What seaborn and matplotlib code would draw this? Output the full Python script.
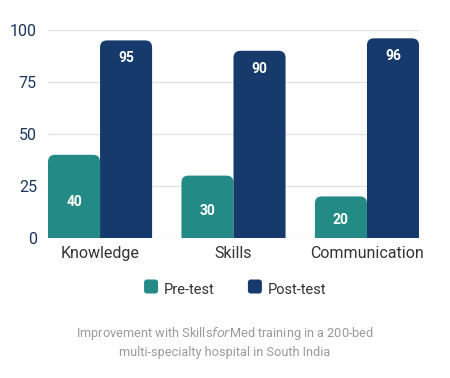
import matplotlib
matplotlib.use("Agg")
import matplotlib.pyplot as plt
import seaborn as sns
import pandas as pd
from matplotlib.patches import FancyBboxPatch, Patch
from matplotlib.legend_handler import HandlerPatch

categories = ["Knowledge", "Skills", "Communication"]
pre_test = [40, 30, 20]
post_test = [95, 90, 96]
series_names = ["Pre-test", "Post-test"]
y_ticks = [0, 25, 50, 75, 100]

TEAL = "#238A85"
NAVY = "#153A6B"

df = pd.DataFrame({
    "category": categories * 2,
    "value": pre_test + post_test,
    "series": [series_names[0]] * 3 + [series_names[1]] * 3,
})

sns.set_theme(style="white")
plt.rcParams["font.family"] = ["Roboto", "DejaVu Sans"]

fig = plt.figure(figsize=(4.5, 3.78), dpi=100)
ax = fig.add_axes([48 / 450, 1 - 238 / 378, (419 - 48) / 450, (238 - 30) / 378])

sns.barplot(data=df, x="category", y="value", hue="series", order=categories,
            hue_order=series_names, palette=[TEAL, NAVY], width=0.78, gap=0,
            saturation=1, ax=ax, legend=False)

ax.set_ylim(0, 100)
ax.set_xlim(-0.39, 2.39)
ax.set_yticks(y_ticks)
ax.grid(axis="y", color="#e3e3e3", linewidth=1)
ax.set_axisbelow(True)
for s in ax.spines.values():
    s.set_visible(False)
ax.set_xlabel("")
ax.set_ylabel("")
ax.tick_params(axis="y", length=0, pad=8, labelsize=11.5, labelcolor="#1B365D")
ax.tick_params(axis="x", length=0, pad=6, labelsize=11.5, labelcolor="#333333")

# rounded top corners
fig.canvas.draw()
bbox = ax.get_window_extent()
px_per_x = bbox.width / (ax.get_xlim()[1] - ax.get_xlim()[0])
px_per_y = bbox.height / (ax.get_ylim()[1] - ax.get_ylim()[0])
r_px = 7
rx = r_px / px_per_x
ry = r_px / px_per_y
old = list(ax.patches)
bars = []
for p in old:
    x, w, h = p.get_x(), p.get_width(), p.get_height()
    c = p.get_facecolor()
    p.remove()
    fb = FancyBboxPatch((x, -ry * 2), w, h + ry * 2,
                        boxstyle=f"round,pad=0,rounding_size={rx}",
                        mutation_aspect=ry / rx, facecolor=c, edgecolor="none",
                        linewidth=0, zorder=2)
    ax.add_patch(fb)
    bars.append((x + w / 2, h))

# labels
for (cx, h), (i, v) in zip(bars, enumerate(pre_test + post_test)):
    if i < 3:
        ty = v * 0.43
    else:
        ty = v - 8.7
    ax.text(cx, ty, str(v), ha="center", va="center", color="white",
            fontsize=10, fontweight="bold", zorder=3)

class RoundHandler(HandlerPatch):
    def create_artists(self, legend, orig_handle, xdescent, ydescent, width,
                       height, fontsize, trans):
        s = 10.08
        p = FancyBboxPatch((xdescent + (width - s) / 2, ydescent + (height - s) / 2),
                           s, s, boxstyle="round,pad=0,rounding_size=2",
                           facecolor=orig_handle.get_facecolor(), edgecolor="none",
                           transform=trans)
        return [p]

handles = [Patch(facecolor=TEAL), Patch(facecolor=NAVY)]
fig.legend(handles, series_names, loc="center", bbox_to_anchor=(235 / 450, 1 - 290 / 378),
           ncol=2, frameon=False, fontsize=10.5, handler_map={Patch: RoundHandler()},
           handlelength=0.96, handleheight=0.96, handletextpad=0.38, columnspacing=2.3,
           labelcolor="#333333")

fig.text(225 / 450, 1 - 342 / 378,
         "Improvement with Skills$\\it{for}$Med training in a 200-bed\nmulti-specialty hospital in South India",
         ha="center", va="center", fontsize=9.2, color="#9A9A9A", linespacing=1.35)

fig.savefig("out.png", dpi=100)
